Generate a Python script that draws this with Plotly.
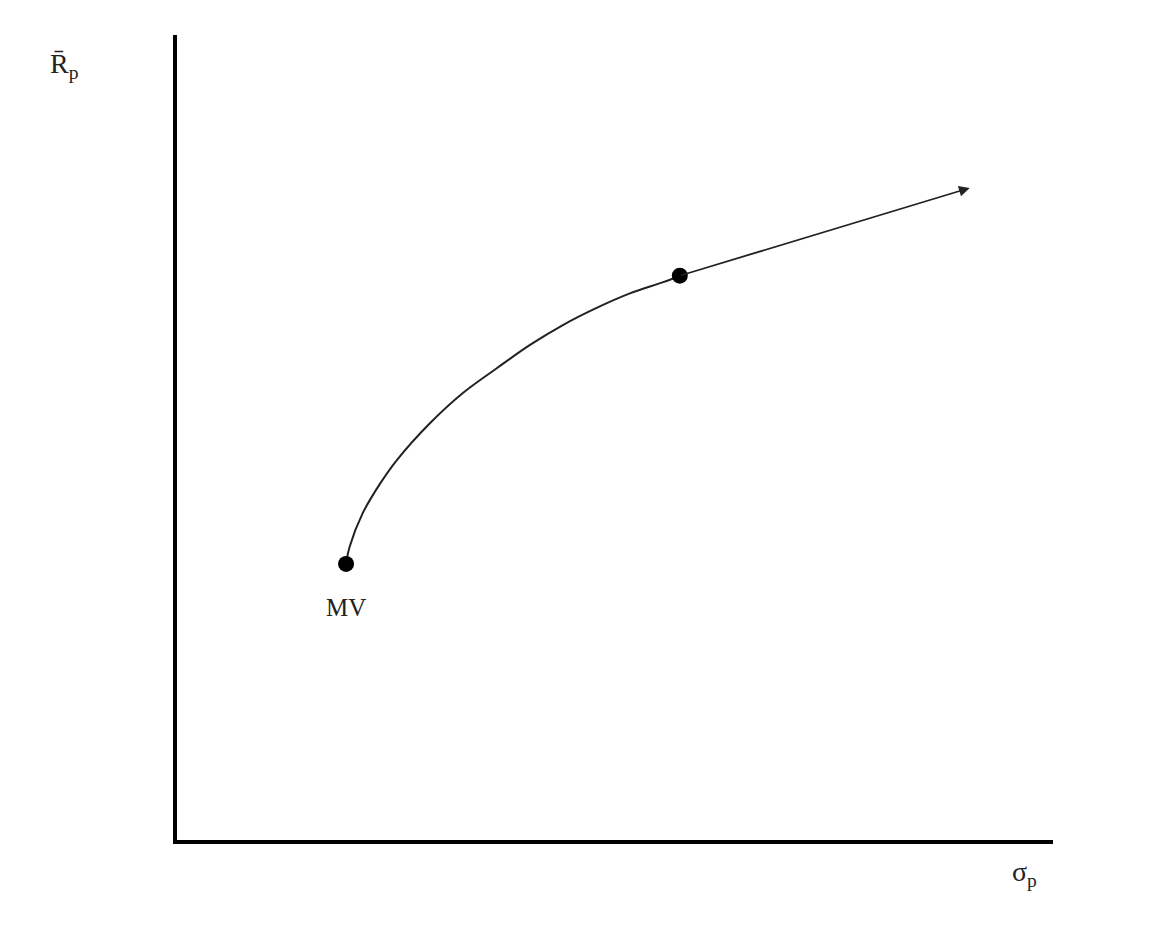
import plotly.graph_objects as go

# efficient frontier (arbitrary units, axes 0-100)
sigma_p = [19.3, 19.7, 21.2, 23.2, 25.1, 28.9, 32.6, 36.5, 40.3, 44.1, 47.9, 51.7, 55.5, 57.4]
r_p = [34.3, 36.4, 40.6, 44.3, 47.2, 51.8, 55.5, 58.6, 61.5, 64.0, 66.1, 67.9, 69.3, 70.1]

# marked points: minimum variance portfolio and the tangent point
dot_x = [19.3, 57.4]
dot_y = [34.3, 70.1]

# straight line leaving the tangent point (start, end)
line_x = [57.4, 90.5]
line_y = [70.1, 81.0]

serif = "Liberation Serif"

fig = go.Figure()
fig.add_trace(go.Scatter(x=sigma_p, y=r_p, mode="lines",
                         line=dict(color="#222", width=2, shape="spline", smoothing=1.0),
                         hoverinfo="skip"))
fig.add_trace(go.Scatter(x=dot_x, y=dot_y, mode="markers",
                         marker=dict(color="black", size=16),
                         hoverinfo="skip"))

# line with arrow head
fig.add_annotation(x=line_x[1], y=line_y[1], ax=line_x[0], ay=line_y[0],
                   xref="x", yref="y", axref="x", ayref="y",
                   showarrow=True, arrowhead=2, arrowsize=1.2,
                   arrowwidth=1.8, arrowcolor="#222", text="")

fig.add_annotation(x=dot_x[0], y=dot_y[0], text="MV", showarrow=False,
                   yshift=-44, font=dict(family=serif, size=25, color="#222"))

# axis titles placed like the original (paper coords so they are not clipped)
fig.add_annotation(x=-0.147, y=0.986, xref="paper", yref="paper", text="R\u0304<sub>p</sub>",
                   showarrow=False, font=dict(family=serif, size=28, color="#222"))
fig.add_annotation(x=0.984, y=-0.066, xref="paper", yref="paper", text="σ<sub>p</sub>",
                   showarrow=False, font=dict(family=serif, size=28, color="#222"))

fig.update_xaxes(range=[0, 100], showline=True, linecolor="black", linewidth=4,
                 showgrid=False, zeroline=False, showticklabels=False, ticks="")
fig.update_yaxes(range=[0, 100], showline=True, linecolor="black", linewidth=4,
                 showgrid=False, zeroline=False, showticklabels=False, ticks="")

fig.update_layout(width=1151, height=911, showlegend=False,
                  margin=dict(l=169, r=106, t=27, b=79),
                  plot_bgcolor="white", paper_bgcolor="white")

fig.write_html("out.html")
